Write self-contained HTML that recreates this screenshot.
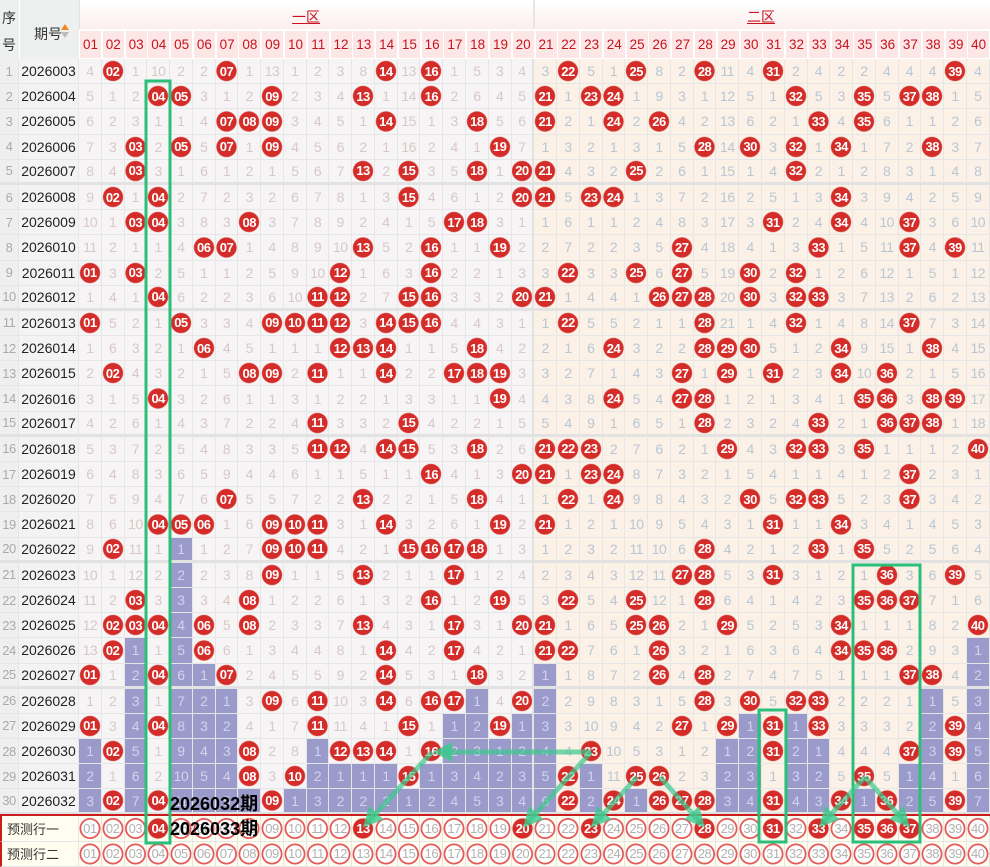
<!DOCTYPE html>
<html><head><meta charset="utf-8">
<style>
*{margin:0;padding:0}
body{width:990px;height:867px;overflow:hidden;background:#fff;font-family:"Liberation Sans","Noto Sans CJK SC",sans-serif;position:relative}
.hd{position:absolute;left:0;top:0;width:990px;height:59px}
.r,.p{display:grid;grid-template-columns:19px 60px repeat(40,22.775px);height:25.2px}
.r>*,.p>*{display:flex;align-items:center;justify-content:center;border-right:1px solid #e6e6e6;border-bottom:1px solid #e6e6e6;box-sizing:border-box;font-style:normal;text-decoration:none;font-weight:normal;font-size:14px;letter-spacing:-0.5px}
.r>*{background-color:#f6f4f4;color:#d8c8c8}
.r>:nth-child(n+23){background-color:#fbf1e6;color:#b8c7d5}
.r>:nth-child(22){border-right:2px solid #e2e2e2}
.r>s{color:#aaa;background-color:#efefef;font-size:13px}
.r>em{color:#222;background-color:#f3f3f3;font-size:14px;letter-spacing:0}
.r>b{color:#fff!important;font-weight:bold;font-size:13px;background-image:radial-gradient(circle,#d42d29 0,#d42d29 9.6px,rgba(212,45,41,0) 10.6px)}
.r>u{background-color:#9a9bcb!important;color:#d2d3ec!important}
.f>*{border-bottom:3px solid #e2e2e2}
.p{height:25.5px;background:#fffdf0}
.p>*{background-color:#fffdf0;color:#b2b2b2;font-size:13px}
.p>i{background-image:radial-gradient(circle,#fff 0,#fff 8.4px,#e25a5a 9px,#e25a5a 10.2px,rgba(255,255,255,0) 10.8px)}
.p>b{color:#fff;font-weight:bold;background-image:radial-gradient(circle,#d42d29 0,#d42d29 9.6px,rgba(212,45,41,0) 10.6px)}
.p>s{grid-column:span 2;justify-content:flex-start;padding-left:5px;color:#333;font-size:13px;letter-spacing:0;border-left:2px solid #c81e1e}
.hn{position:absolute;top:31px;height:27px;width:21px;background:#fce6e6;color:#c8141e;font-size:13.5px;display:flex;align-items:center;justify-content:center}
</style></head><body>
<div class="hd">
<div style="position:absolute;left:0;top:0;width:79px;height:59px;background:#eef0f0;border-right:1px solid #e0e0e0"></div>
<div style="position:absolute;left:2px;top:8px;font-size:14px;color:#333">序</div>
<div style="position:absolute;left:2px;top:35px;font-size:14px;color:#333">号</div>
<div style="position:absolute;left:19px;top:0;width:1px;height:59px;background:#fff"></div>
<div style="position:absolute;left:34px;top:24px;font-size:14px;color:#333">期号</div>
<div style="position:absolute;left:61px;top:24px;width:0;height:0;border-left:4px solid transparent;border-right:4px solid transparent;border-bottom:6px solid #f08a20"></div>
<div style="position:absolute;left:61px;top:32px;width:0;height:0;border-left:4px solid transparent;border-right:4px solid transparent;border-top:6px solid #bbb"></div>
<div style="position:absolute;left:80px;top:2px;width:453px;height:27px;background:linear-gradient(#fff,#fdeeee)"></div>
<div style="position:absolute;left:535px;top:2px;width:455px;height:27px;background:linear-gradient(#fff,#fdeeee)"></div>
<div style="position:absolute;left:533px;top:0;width:2px;height:59px;background:#e6e6e6"></div>
<div style="position:absolute;left:292px;top:7px;font-size:14px;color:#c8141e;text-decoration:underline">一区</div>
<div style="position:absolute;left:747px;top:7px;font-size:14px;color:#c8141e;text-decoration:underline">二区</div>
<div style="position:absolute;left:79px;top:29px;width:911px;height:30px;background:#fff;border-bottom:1px solid #e6e6e6"></div>
<div class="hn" style="left:80px">01</div><div class="hn" style="left:102.8px">02</div><div class="hn" style="left:125.6px">03</div><div class="hn" style="left:148.3px">04</div><div class="hn" style="left:171.1px">05</div><div class="hn" style="left:193.9px">06</div><div class="hn" style="left:216.7px">07</div><div class="hn" style="left:239.4px">08</div><div class="hn" style="left:262.2px">09</div><div class="hn" style="left:285px">10</div><div class="hn" style="left:307.8px">11</div><div class="hn" style="left:330.5px">12</div><div class="hn" style="left:353.3px">13</div><div class="hn" style="left:376.1px">14</div><div class="hn" style="left:398.9px">15</div><div class="hn" style="left:421.6px">16</div><div class="hn" style="left:444.4px">17</div><div class="hn" style="left:467.2px">18</div><div class="hn" style="left:490px">19</div><div class="hn" style="left:512.7px">20</div><div class="hn" style="left:535.5px">21</div><div class="hn" style="left:558.3px">22</div><div class="hn" style="left:581.1px">23</div><div class="hn" style="left:603.8px">24</div><div class="hn" style="left:626.6px">25</div><div class="hn" style="left:649.4px">26</div><div class="hn" style="left:672.2px">27</div><div class="hn" style="left:694.9px">28</div><div class="hn" style="left:717.7px">29</div><div class="hn" style="left:740.5px">30</div><div class="hn" style="left:763.3px">31</div><div class="hn" style="left:786px">32</div><div class="hn" style="left:808.8px">33</div><div class="hn" style="left:831.6px">34</div><div class="hn" style="left:854.4px">35</div><div class="hn" style="left:877.1px">36</div><div class="hn" style="left:899.9px">37</div><div class="hn" style="left:922.7px">38</div><div class="hn" style="left:945.5px">39</div><div class="hn" style="left:968.2px">40</div>
</div>
<div style="position:absolute;left:0;top:59px;width:990px">
<div class="r"><s>1</s><em>2026003</em><i>4</i><b>02</b><i>1</i><i>10</i><i>2</i><i>2</i><b>07</b><i>1</i><i>13</i><i>1</i><i>2</i><i>3</i><i>8</i><b>14</b><i>13</i><b>16</b><i>1</i><i>5</i><i>3</i><i>4</i><i>3</i><b>22</b><i>5</i><i>1</i><b>25</b><i>8</i><i>2</i><b>28</b><i>11</i><i>4</i><b>31</b><i>2</i><i>4</i><i>2</i><i>2</i><i>4</i><i>4</i><i>4</i><b>39</b><i>4</i></div>
<div class="r"><s>2</s><em>2026004</em><i>5</i><i>1</i><i>2</i><b>04</b><b>05</b><i>3</i><i>1</i><i>2</i><b>09</b><i>2</i><i>3</i><i>4</i><b>13</b><i>1</i><i>14</i><b>16</b><i>2</i><i>6</i><i>4</i><i>5</i><b>21</b><i>1</i><b>23</b><b>24</b><i>1</i><i>9</i><i>3</i><i>1</i><i>12</i><i>5</i><i>1</i><b>32</b><i>5</i><i>3</i><b>35</b><i>5</i><b>37</b><b>38</b><i>1</i><i>5</i></div>
<div class="r"><s>3</s><em>2026005</em><i>6</i><i>2</i><i>3</i><i>1</i><i>1</i><i>4</i><b>07</b><b>08</b><b>09</b><i>3</i><i>4</i><i>5</i><i>1</i><b>14</b><i>15</i><i>1</i><i>3</i><b>18</b><i>5</i><i>6</i><b>21</b><i>2</i><i>1</i><b>24</b><i>2</i><b>26</b><i>4</i><i>2</i><i>13</i><i>6</i><i>2</i><i>1</i><b>33</b><i>4</i><b>35</b><i>6</i><i>1</i><i>1</i><i>2</i><i>6</i></div>
<div class="r"><s>4</s><em>2026006</em><i>7</i><i>3</i><b>03</b><i>2</i><b>05</b><i>5</i><b>07</b><i>1</i><b>09</b><i>4</i><i>5</i><i>6</i><i>2</i><i>1</i><i>16</i><i>2</i><i>4</i><i>1</i><b>19</b><i>7</i><i>1</i><i>3</i><i>2</i><i>1</i><i>3</i><i>1</i><i>5</i><b>28</b><i>14</i><b>30</b><i>3</i><b>32</b><i>1</i><b>34</b><i>1</i><i>7</i><i>2</i><b>38</b><i>3</i><i>7</i></div>
<div class="r f"><s>5</s><em>2026007</em><i>8</i><i>4</i><b>03</b><i>3</i><i>1</i><i>6</i><i>1</i><i>2</i><i>1</i><i>5</i><i>6</i><i>7</i><b>13</b><i>2</i><b>15</b><i>3</i><i>5</i><b>18</b><i>1</i><b>20</b><b>21</b><i>4</i><i>3</i><i>2</i><b>25</b><i>2</i><i>6</i><i>1</i><i>15</i><i>1</i><i>4</i><b>32</b><i>2</i><i>1</i><i>2</i><i>8</i><i>3</i><i>1</i><i>4</i><i>8</i></div>
<div class="r"><s>6</s><em>2026008</em><i>9</i><b>02</b><i>1</i><b>04</b><i>2</i><i>7</i><i>2</i><i>3</i><i>2</i><i>6</i><i>7</i><i>8</i><i>1</i><i>3</i><b>15</b><i>4</i><i>6</i><i>1</i><i>2</i><b>20</b><b>21</b><i>5</i><b>23</b><b>24</b><i>1</i><i>3</i><i>7</i><i>2</i><i>16</i><i>2</i><i>5</i><i>1</i><i>3</i><b>34</b><i>3</i><i>9</i><i>4</i><i>2</i><i>5</i><i>9</i></div>
<div class="r"><s>7</s><em>2026009</em><i>10</i><i>1</i><b>03</b><b>04</b><i>3</i><i>8</i><i>3</i><b>08</b><i>3</i><i>7</i><i>8</i><i>9</i><i>2</i><i>4</i><i>1</i><i>5</i><b>17</b><b>18</b><i>3</i><i>1</i><i>1</i><i>6</i><i>1</i><i>1</i><i>2</i><i>4</i><i>8</i><i>3</i><i>17</i><i>3</i><b>31</b><i>2</i><i>4</i><b>34</b><i>4</i><i>10</i><b>37</b><i>3</i><i>6</i><i>10</i></div>
<div class="r"><s>8</s><em>2026010</em><i>11</i><i>2</i><i>1</i><i>1</i><i>4</i><b>06</b><b>07</b><i>1</i><i>4</i><i>8</i><i>9</i><i>10</i><b>13</b><i>5</i><i>2</i><b>16</b><i>1</i><i>1</i><b>19</b><i>2</i><i>2</i><i>7</i><i>2</i><i>2</i><i>3</i><i>5</i><b>27</b><i>4</i><i>18</i><i>4</i><i>1</i><i>3</i><b>33</b><i>1</i><i>5</i><i>11</i><b>37</b><i>4</i><b>39</b><i>11</i></div>
<div class="r"><s>9</s><em>2026011</em><b>01</b><i>3</i><b>03</b><i>2</i><i>5</i><i>1</i><i>1</i><i>2</i><i>5</i><i>9</i><i>10</i><b>12</b><i>1</i><i>6</i><i>3</i><b>16</b><i>2</i><i>2</i><i>1</i><i>3</i><i>3</i><b>22</b><i>3</i><i>3</i><b>25</b><i>6</i><b>27</b><i>5</i><i>19</i><b>30</b><i>2</i><b>32</b><i>1</i><i>2</i><i>6</i><i>12</i><i>1</i><i>5</i><i>1</i><i>12</i></div>
<div class="r f"><s>10</s><em>2026012</em><i>1</i><i>4</i><i>1</i><b>04</b><i>6</i><i>2</i><i>2</i><i>3</i><i>6</i><i>10</i><b>11</b><b>12</b><i>2</i><i>7</i><b>15</b><b>16</b><i>3</i><i>3</i><i>2</i><b>20</b><b>21</b><i>1</i><i>4</i><i>4</i><i>1</i><b>26</b><b>27</b><b>28</b><i>20</i><b>30</b><i>3</i><b>32</b><b>33</b><i>3</i><i>7</i><i>13</i><i>2</i><i>6</i><i>2</i><i>13</i></div>
<div class="r"><s>11</s><em>2026013</em><b>01</b><i>5</i><i>2</i><i>1</i><b>05</b><i>3</i><i>3</i><i>4</i><b>09</b><b>10</b><b>11</b><b>12</b><i>3</i><b>14</b><b>15</b><b>16</b><i>4</i><i>4</i><i>3</i><i>1</i><i>1</i><b>22</b><i>5</i><i>5</i><i>2</i><i>1</i><i>1</i><b>28</b><i>21</i><i>1</i><i>4</i><b>32</b><i>1</i><i>4</i><i>8</i><i>14</i><b>37</b><i>7</i><i>3</i><i>14</i></div>
<div class="r"><s>12</s><em>2026014</em><i>1</i><i>6</i><i>3</i><i>2</i><i>1</i><b>06</b><i>4</i><i>5</i><i>1</i><i>1</i><i>1</i><b>12</b><b>13</b><b>14</b><i>1</i><i>1</i><i>5</i><b>18</b><i>4</i><i>2</i><i>2</i><i>1</i><i>6</i><b>24</b><i>3</i><i>2</i><i>2</i><b>28</b><b>29</b><b>30</b><i>5</i><i>1</i><i>2</i><b>34</b><i>9</i><i>15</i><i>1</i><b>38</b><i>4</i><i>15</i></div>
<div class="r"><s>13</s><em>2026015</em><i>2</i><b>02</b><i>4</i><i>3</i><i>2</i><i>1</i><i>5</i><b>08</b><b>09</b><i>2</i><b>11</b><i>1</i><i>1</i><b>14</b><i>2</i><i>2</i><b>17</b><b>18</b><b>19</b><i>3</i><i>3</i><i>2</i><i>7</i><i>1</i><i>4</i><i>3</i><b>27</b><i>1</i><b>29</b><i>1</i><b>31</b><i>2</i><i>3</i><b>34</b><i>10</i><b>36</b><i>2</i><i>1</i><i>5</i><i>16</i></div>
<div class="r"><s>14</s><em>2026016</em><i>3</i><i>1</i><i>5</i><b>04</b><i>3</i><i>2</i><i>6</i><i>1</i><i>1</i><i>3</i><i>1</i><i>2</i><i>2</i><i>1</i><i>3</i><i>3</i><i>1</i><i>1</i><b>19</b><i>4</i><i>4</i><i>3</i><i>8</i><b>24</b><i>5</i><i>4</i><b>27</b><b>28</b><i>1</i><i>2</i><i>1</i><i>3</i><i>4</i><i>1</i><b>35</b><b>36</b><i>3</i><b>38</b><b>39</b><i>17</i></div>
<div class="r f"><s>15</s><em>2026017</em><i>4</i><i>2</i><i>6</i><i>1</i><i>4</i><i>3</i><i>7</i><i>2</i><i>2</i><i>4</i><b>11</b><i>3</i><i>3</i><i>2</i><b>15</b><i>4</i><i>2</i><i>2</i><i>1</i><i>5</i><i>5</i><i>4</i><i>9</i><i>1</i><i>6</i><i>5</i><i>1</i><b>28</b><i>2</i><i>3</i><i>2</i><i>4</i><b>33</b><i>2</i><i>1</i><b>36</b><b>37</b><b>38</b><i>1</i><i>18</i></div>
<div class="r"><s>16</s><em>2026018</em><i>5</i><i>3</i><i>7</i><i>2</i><i>5</i><i>4</i><i>8</i><i>3</i><i>3</i><i>5</i><b>11</b><b>12</b><i>4</i><b>14</b><b>15</b><i>5</i><i>3</i><b>18</b><i>2</i><i>6</i><b>21</b><b>22</b><b>23</b><i>2</i><i>7</i><i>6</i><i>2</i><i>1</i><b>29</b><i>4</i><i>3</i><b>32</b><b>33</b><i>3</i><b>35</b><i>1</i><i>1</i><i>1</i><i>2</i><b>40</b></div>
<div class="r"><s>17</s><em>2026019</em><i>6</i><i>4</i><i>8</i><i>3</i><i>6</i><i>5</i><i>9</i><i>4</i><i>4</i><i>6</i><i>1</i><i>1</i><i>5</i><i>1</i><i>1</i><b>16</b><i>4</i><i>1</i><i>3</i><b>20</b><b>21</b><i>1</i><b>23</b><b>24</b><i>8</i><i>7</i><i>3</i><i>2</i><i>1</i><i>5</i><i>4</i><i>1</i><i>1</i><i>4</i><i>1</i><i>2</i><b>37</b><i>2</i><i>3</i><i>1</i></div>
<div class="r"><s>18</s><em>2026020</em><i>7</i><i>5</i><i>9</i><i>4</i><i>7</i><i>6</i><b>07</b><i>5</i><i>5</i><i>7</i><i>2</i><i>2</i><b>13</b><i>2</i><i>2</i><i>1</i><i>5</i><b>18</b><i>4</i><i>1</i><i>1</i><b>22</b><i>1</i><b>24</b><i>9</i><i>8</i><i>4</i><i>3</i><i>2</i><b>30</b><i>5</i><b>32</b><b>33</b><i>5</i><i>2</i><i>3</i><b>37</b><i>3</i><i>4</i><i>2</i></div>
<div class="r"><s>19</s><em>2026021</em><i>8</i><i>6</i><i>10</i><b>04</b><b>05</b><b>06</b><i>1</i><i>6</i><b>09</b><b>10</b><b>11</b><i>3</i><i>1</i><b>14</b><i>3</i><i>2</i><i>6</i><i>1</i><b>19</b><i>2</i><b>21</b><i>1</i><i>2</i><i>1</i><i>10</i><i>9</i><i>5</i><i>4</i><i>3</i><i>1</i><b>31</b><i>1</i><i>1</i><b>34</b><i>3</i><i>4</i><i>1</i><i>4</i><i>5</i><i>3</i></div>
<div class="r f"><s>20</s><em>2026022</em><i>9</i><b>02</b><i>11</i><i>1</i><u>1</u><i>1</i><i>2</i><i>7</i><b>09</b><b>10</b><b>11</b><i>4</i><i>2</i><i>1</i><b>15</b><b>16</b><b>17</b><b>18</b><i>1</i><i>3</i><i>1</i><i>2</i><i>3</i><i>2</i><i>11</i><i>10</i><i>6</i><b>28</b><i>4</i><i>2</i><i>1</i><i>2</i><b>33</b><i>1</i><b>35</b><i>5</i><i>2</i><i>5</i><i>6</i><i>4</i></div>
<div class="r"><s>21</s><em>2026023</em><i>10</i><i>1</i><i>12</i><i>2</i><u>2</u><i>2</i><i>3</i><i>8</i><b>09</b><i>1</i><i>1</i><i>5</i><b>13</b><i>2</i><i>1</i><i>1</i><b>17</b><i>1</i><i>2</i><i>4</i><i>2</i><i>3</i><i>4</i><i>3</i><i>12</i><i>11</i><b>27</b><b>28</b><i>5</i><i>3</i><b>31</b><i>3</i><i>1</i><i>2</i><i>1</i><b>36</b><i>3</i><i>6</i><b>39</b><i>5</i></div>
<div class="r"><s>22</s><em>2026024</em><i>11</i><i>2</i><b>03</b><i>3</i><u>3</u><i>3</i><i>4</i><b>08</b><i>1</i><i>2</i><i>2</i><i>6</i><i>1</i><i>3</i><i>2</i><b>16</b><i>1</i><i>2</i><b>19</b><i>5</i><i>3</i><b>22</b><i>5</i><i>4</i><b>25</b><i>12</i><i>1</i><b>28</b><i>6</i><i>4</i><i>1</i><i>4</i><i>2</i><i>3</i><b>35</b><b>36</b><b>37</b><i>7</i><i>1</i><i>6</i></div>
<div class="r"><s>23</s><em>2026025</em><i>12</i><b>02</b><b>03</b><b>04</b><u>4</u><b>06</b><i>5</i><b>08</b><i>2</i><i>3</i><i>3</i><i>7</i><b>13</b><i>4</i><i>3</i><i>1</i><b>17</b><i>3</i><i>1</i><b>20</b><b>21</b><i>1</i><i>6</i><i>5</i><b>25</b><b>26</b><i>2</i><i>1</i><b>29</b><i>5</i><i>2</i><i>5</i><i>3</i><b>34</b><i>1</i><i>1</i><i>1</i><i>8</i><i>2</i><b>40</b></div>
<div class="r"><s>24</s><em>2026026</em><i>13</i><b>02</b><u>1</u><i>1</i><u>5</u><b>06</b><i>6</i><i>1</i><i>3</i><i>4</i><i>4</i><i>8</i><i>1</i><b>14</b><i>4</i><i>2</i><b>17</b><i>4</i><i>2</i><i>1</i><b>21</b><b>22</b><i>7</i><i>6</i><i>1</i><b>26</b><i>3</i><i>2</i><i>1</i><i>6</i><i>3</i><i>6</i><i>4</i><b>34</b><b>35</b><b>36</b><i>2</i><i>9</i><i>3</i><u>1</u></div>
<div class="r f"><s>25</s><em>2026027</em><b>01</b><i>1</i><u>2</u><b>04</b><u>6</u><u>1</u><b>07</b><i>2</i><i>4</i><i>5</i><i>5</i><i>9</i><i>2</i><b>14</b><i>5</i><i>3</i><i>1</i><b>18</b><i>3</i><i>2</i><u>1</u><i>1</i><i>8</i><i>7</i><i>2</i><b>26</b><i>4</i><b>28</b><i>2</i><i>7</i><i>4</i><i>7</i><i>5</i><i>1</i><i>1</i><i>1</i><b>37</b><b>38</b><i>4</i><u>2</u></div>
<div class="r"><s>26</s><em>2026028</em><i>1</i><i>2</i><u>3</u><i>1</i><u>7</u><u>2</u><u>1</u><i>3</i><b>09</b><i>6</i><b>11</b><i>10</i><i>3</i><b>14</b><i>6</i><b>16</b><b>17</b><u>1</u><i>4</i><b>20</b><u>2</u><i>2</i><i>9</i><i>8</i><i>3</i><i>1</i><i>5</i><b>28</b><i>3</i><b>30</b><i>5</i><b>32</b><b>33</b><i>2</i><i>2</i><i>2</i><i>1</i><u>1</u><i>5</i><u>3</u></div>
<div class="r"><s>27</s><em>2026029</em><b>01</b><i>3</i><u>4</u><b>04</b><u>8</u><u>3</u><u>2</u><i>4</i><i>1</i><i>7</i><b>11</b><i>11</i><i>4</i><i>1</i><b>15</b><i>1</i><u>1</u><u>2</u><b>19</b><u>1</u><u>3</u><i>3</i><i>10</i><i>9</i><i>4</i><i>2</i><b>27</b><i>1</i><b>29</b><u>1</u><b>31</b><u>1</u><b>33</b><i>3</i><i>3</i><i>3</i><i>2</i><u>2</u><b>39</b><u>4</u></div>
<div class="r"><s>28</s><em>2026030</em><u>1</u><b>02</b><u>5</u><i>1</i><u>9</u><u>4</u><u>3</u><b>08</b><i>2</i><i>8</i><u>1</u><b>12</b><b>13</b><b>14</b><i>1</i><b>16</b><u>2</u><u>3</u><u>1</u><u>2</u><u>4</u><i>4</i><b>23</b><i>10</i><i>5</i><i>3</i><i>1</i><i>2</i><u>1</u><u>2</u><b>31</b><u>2</u><u>1</u><i>4</i><i>4</i><i>4</i><b>37</b><u>3</u><b>39</b><u>5</u></div>
<div class="r"><s>29</s><em>2026031</em><u>2</u><i>1</i><u>6</u><i>2</i><u>10</u><u>5</u><u>4</u><b>08</b><i>3</i><b>10</b><u>2</u><u>1</u><u>1</u><u>1</u><b>15</b><u>1</u><u>3</u><u>4</u><u>2</u><u>3</u><u>5</u><b>22</b><u>1</u><i>11</i><b>25</b><b>26</b><i>2</i><i>3</i><u>2</u><u>3</u><i>1</i><u>3</u><u>2</u><i>5</i><b>35</b><i>5</i><u>1</u><u>4</u><i>1</i><u>6</u></div>
<div class="r f"><s>30</s><em>2026032</em><u>3</u><b>02</b><u>7</u><b>04</b><u>11</u><u>6</u><u>5</u><u>1</u><b>09</b><u>1</u><u>3</u><u>2</u><u>2</u><u>2</u><u>1</u><u>2</u><u>4</u><u>5</u><u>3</u><u>4</u><u>6</u><b>22</b><u>2</u><b>24</b><u>1</u><b>26</b><b>27</b><b>28</b><u>3</u><u>4</u><b>31</b><u>4</u><u>3</u><b>34</b><u>1</u><b>36</b><u>2</u><u>5</u><b>39</b><u>7</u></div>
</div>
<div style="position:absolute;left:0;top:814px;width:990px;height:2px;background:#c81e1e"></div>
<div style="position:absolute;left:0;top:816px;width:990px">
<div class="p"><s>预测行一</s><i>01</i><i>02</i><i>03</i><b>04</b><i>05</i><i>06</i><i>07</i><i>08</i><i>09</i><i>10</i><i>11</i><i>12</i><b>13</b><i>14</i><i>15</i><i>16</i><i>17</i><i>18</i><i>19</i><b>20</b><i>21</i><i>22</i><b>23</b><i>24</i><i>25</i><i>26</i><i>27</i><b>28</b><i>29</i><i>30</i><b>31</b><i>32</i><b>33</b><i>34</i><b>35</b><b>36</b><b>37</b><i>38</i><i>39</i><i>40</i></div>
<div class="p"><s>预测行二</s><i>01</i><i>02</i><i>03</i><i>04</i><i>05</i><i>06</i><i>07</i><i>08</i><i>09</i><i>10</i><i>11</i><i>12</i><i>13</i><i>14</i><i>15</i><i>16</i><i>17</i><i>18</i><i>19</i><i>20</i><i>21</i><i>22</i><i>23</i><i>24</i><i>25</i><i>26</i><i>27</i><i>28</i><i>29</i><i>30</i><i>31</i><i>32</i><i>33</i><i>34</i><i>35</i><i>36</i><i>37</i><i>38</i><i>39</i><i>40</i></div>
</div>
<svg style="position:absolute;left:0;top:0" width="990" height="867">
<defs><marker id="ah" markerWidth="4" markerHeight="4" refX="2.5" refY="2" orient="auto" markerUnits="strokeWidth"><path d="M0,0 L4,2 L0,4 z" fill="#3cc88c" fill-opacity="0.8"/></marker></defs>
<g fill="none" stroke="#2bbf7a" stroke-width="3">
<rect x="146" y="81" width="24" height="762"/>
<rect x="759" y="710" width="27" height="132"/>
<rect x="853" y="565" width="67" height="277"/>
</g>
<g stroke="#3cc88c" stroke-opacity="0.7" stroke-width="5" fill="none" marker-end="url(#ah)">
<line x1="591" y1="752" x2="440" y2="752"/>
<line x1="432" y1="752" x2="368" y2="822"/>
<line x1="591" y1="752" x2="528" y2="822"/>
<line x1="637" y1="777" x2="596" y2="822"/>
<line x1="660" y1="777" x2="700" y2="822"/>
<line x1="865" y1="777" x2="824" y2="822"/>
<line x1="865" y1="777" x2="905" y2="822"/>
</g>
</svg>
<div style="position:absolute;left:170px;top:793px;font-size:18px;font-weight:bold;color:#000;line-height:22px">2026032期</div>
<div style="position:absolute;left:170px;top:818px;font-size:18px;font-weight:bold;color:#000;line-height:22px">2026033期</div>
</body></html>
